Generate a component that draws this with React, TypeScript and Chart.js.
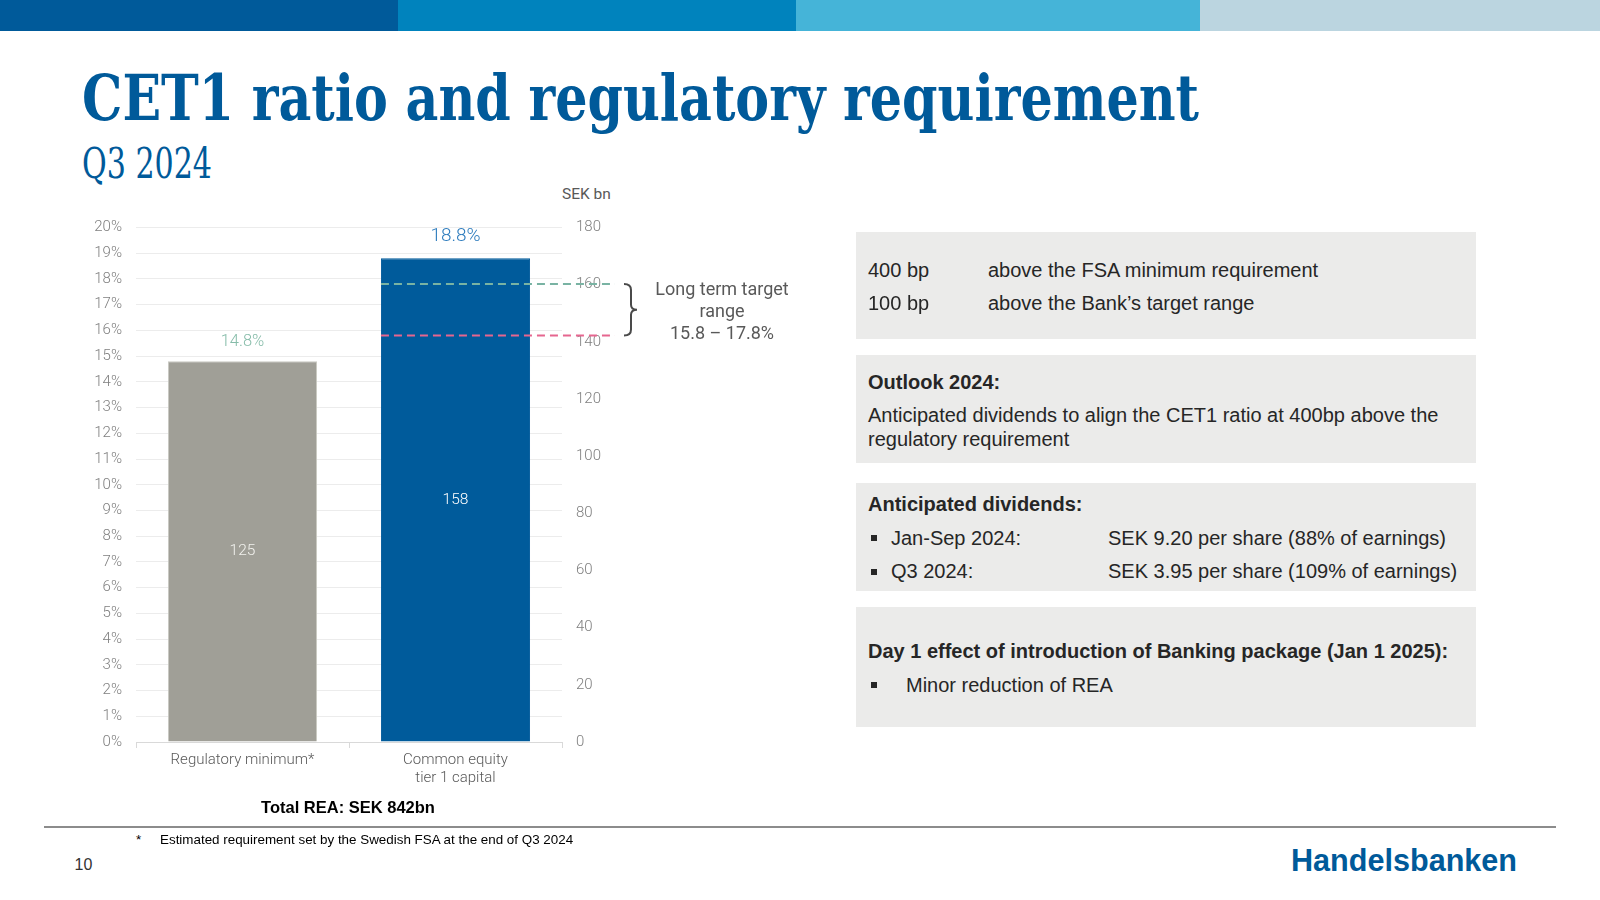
import React, { useEffect, useLayoutEffect, useRef } from "react";
import { Chart, registerables } from "chart.js";

Chart.register(...registerables);

// ---------- data ----------
const categories: string[][] = [["Regulatory minimum*"], ["Common equity", "tier 1 capital"]];
const cet1RatioPct: number[] = [14.8, 18.8];
const capitalSekBn: number[] = [125, 158];
const targetRangeLowPct = 15.8;
const targetRangeHighPct = 17.8;
const leftAxisMax = 20;
const leftAxisStep = 1;
const rightAxisMax = 180;
const rightAxisStep = 20;

// ---------- styles ----------
const BLUE = "#005a9a";
const barColors = ["#a09f97", "#005b9b"];
const barBorderColors = ["#c9c9c2", "#005b9b"];
const pctLabelColors = ["#86bca9", "#2c7bbd"];
const pctLabelSizes = [16.5, 19];
const pctLabelOffsets = [19.5, 22.5];
const valueLabelColors = ["#f2f2ee", "#ffffff"];
const targetLineColors = { high: "#79b3a3", low: "#e6668f" };
const TICK_FONT = "Roboto";

function FitText({ text, width, style }: { text: string; width: number; style: React.CSSProperties }) {
  const ref = useRef<HTMLDivElement>(null);
  useLayoutEffect(() => {
    const fit = () => {
      const el = ref.current;
      if (!el) return;
      el.style.transform = "none";
      const w = el.getBoundingClientRect().width;
      if (w > 0) el.style.transform = `scaleX(${width / w})`;
    };
    fit();
    if ((document as any).fonts?.ready) (document as any).fonts.ready.then(fit);
  }, [text, width]);
  return (
    <div
      ref={ref}
      style={{ position: "absolute", whiteSpace: "nowrap", display: "inline-block", transformOrigin: "left top", ...style }}
    >
      {text}
    </div>
  );
}

function CapitalChart() {
  const canvasRef = useRef<HTMLCanvasElement>(null);
  useEffect(() => {
    const canvas = canvasRef.current;
    if (!canvas) return;

    const overlay = {
      id: "overlay",
      afterDatasetsDraw(chart: any) {
        const ctx = chart.ctx;
        const meta = chart.getDatasetMeta(0);
        ctx.save();
        meta.data.forEach((bar: any, i: number) => {
          const props = bar.getProps(["x", "y", "base"], true);
          ctx.textAlign = "center";
          ctx.textBaseline = "middle";
          ctx.font = `300 ${pctLabelSizes[i]}px ${TICK_FONT}`;
          ctx.fillStyle = pctLabelColors[i];
          ctx.fillText(`${cet1RatioPct[i].toFixed(1)}%`, props.x, props.y - pctLabelOffsets[i]);
          ctx.font = `300 15.5px ${TICK_FONT}`;
          ctx.fillStyle = valueLabelColors[i];
          ctx.fillText(String(capitalSekBn[i]), props.x, (props.y + props.base) / 2);
        });
        ctx.restore();
      },
      afterDraw(chart: any) {
        const ctx = chart.ctx;
        const y = chart.scales.y;
        const area = chart.chartArea;
        const bar = chart.getDatasetMeta(0).data[1];
        const bp = bar.getProps(["x", "width"], true);
        const xStart = bp.x - bp.width / 2;
        const xEnd = area.right + 53;
        const yHigh = y.getPixelForValue(targetRangeHighPct);
        const yLow = y.getPixelForValue(targetRangeLowPct);
        ctx.save();
        ctx.lineWidth = 2;
        ctx.setLineDash([8, 5]);
        ctx.strokeStyle = targetLineColors.high;
        ctx.beginPath();
        ctx.moveTo(xStart, yHigh);
        ctx.lineTo(xEnd, yHigh);
        ctx.stroke();
        ctx.strokeStyle = targetLineColors.low;
        ctx.beginPath();
        ctx.moveTo(xStart, yLow);
        ctx.lineTo(xEnd, yLow);
        ctx.stroke();
        // brace
        ctx.setLineDash([]);
        ctx.strokeStyle = "#4a4a4a";
        ctx.lineWidth = 2;
        const x0 = area.right + 62;
        const x1 = x0 + 7;
        const tip = x0 + 13;
        const yMid = (yHigh + yLow) / 2;
        ctx.beginPath();
        ctx.moveTo(x0, yHigh);
        ctx.quadraticCurveTo(x1, yHigh, x1, yHigh + 6);
        ctx.lineTo(x1, yMid - 5);
        ctx.quadraticCurveTo(x1, yMid, tip, yMid);
        ctx.quadraticCurveTo(x1, yMid, x1, yMid + 5);
        ctx.lineTo(x1, yLow - 6);
        ctx.quadraticCurveTo(x1, yLow, x0, yLow);
        ctx.stroke();
        ctx.restore();
      },
    };

    const tickFont = { family: TICK_FONT, size: 15, weight: 300 as any, lineHeight: 1.3 };
    const xTickFont = { family: TICK_FONT, size: 15, weight: 300 as any, lineHeight: 1.22 };

    const chart = new Chart(canvas, {
      type: "bar",
      data: {
        labels: categories,
        datasets: [
          {
            data: cet1RatioPct,
            backgroundColor: barColors,
            borderColor: barBorderColors,
            borderWidth: 1,
            barPercentage: 0.7,
            categoryPercentage: 1.0,
            yAxisID: "y",
          },
        ],
      },
      options: {
        responsive: false,
        maintainAspectRatio: false,
        animation: false,
        devicePixelRatio: 1,
        layout: { padding: { top: 36.5, left: 0, right: 0, bottom: 0 } },
        plugins: { legend: { display: false }, tooltip: { enabled: false }, title: { display: false } },
        scales: {
          x: {
            grid: { display: true, drawOnChartArea: false, drawTicks: true, tickLength: 6, color: "#d9d9d9", offset: true },
            border: { display: true, color: "#d9d9d9", width: 1 },
            ticks: { color: "#595959", font: xTickFont, padding: 3, maxRotation: 0, autoSkip: false },
            afterFit: (s: any) => {
              s.height = 69;
            },
          },
          y: {
            position: "left",
            min: 0,
            max: leftAxisMax,
            ticks: { stepSize: leftAxisStep, color: "#7f7f7f", font: tickFont, padding: 14, callback: (v: any) => `${v}%` },
            grid: { color: "#ececec", drawTicks: false, lineWidth: 1 },
            border: { display: false },
            afterFit: (s: any) => {
              s.width = 76;
            },
          },
          y2: {
            position: "right",
            min: 0,
            max: rightAxisMax,
            ticks: { stepSize: rightAxisStep, color: "#7f7f7f", font: tickFont, padding: 14 },
            grid: { display: false, drawTicks: false },
            border: { display: false },
            afterFit: (s: any) => {
              s.width = 138;
            },
          },
        },
      },
      plugins: [overlay],
    });
    return () => chart.destroy();
  }, []);
  return (
    <canvas
      ref={canvasRef}
      width={640}
      height={620}
      style={{ position: "absolute", left: 60, top: 190.5, width: 640, height: 620 }}
    />
  );
}

const sans = "'Liberation Sans', Arial, sans-serif";

function Line({ x, y, text, bold, size = 20, color = "#262626" }: { x: number; y: number; text: string; bold?: boolean; size?: number; color?: string }) {
  return (
    <div
      style={{
        position: "absolute",
        left: x,
        top: y - 12,
        height: 24,
        lineHeight: "24px",
        fontFamily: sans,
        fontSize: size,
        fontWeight: bold ? 700 : 400,
        color,
        whiteSpace: "nowrap",
      }}
    >
      {text}
    </div>
  );
}

function Bullet({ x, y }: { x: number; y: number }) {
  return <div style={{ position: "absolute", left: x, top: y - 3, width: 6, height: 6, background: "#262626" }} />;
}

export default function App() {
  const boxStyle = (top: number, height: number): React.CSSProperties => ({
    position: "absolute",
    left: 856,
    top,
    width: 620,
    height,
    background: "#ebebea",
  });
  return (
    <div style={{ position: "fixed", left: 0, top: 0, width: 1600, height: 900, background: "#ffffff", overflow: "hidden" }}>
      {/* top bar */}
      <div style={{ position: "absolute", left: 0, top: 0, width: 398, height: 31, background: "#005a9a" }} />
      <div style={{ position: "absolute", left: 398, top: 0, width: 398, height: 31, background: "#0083bd" }} />
      <div style={{ position: "absolute", left: 796, top: 0, width: 404, height: 31, background: "#45b4d8" }} />
      <div style={{ position: "absolute", left: 1200, top: 0, width: 400, height: 31, background: "#bbd5e0" }} />

      <FitText
        text="CET1 ratio and regulatory requirement"
        width={1117}
        style={{ left: 82, top: 66, fontFamily: "'DejaVu Serif Condensed', 'DejaVu Serif', serif", fontWeight: 700, fontSize: 64, lineHeight: "64px", color: BLUE }}
      />
      <FitText
        text="Q3 2024"
        width={130}
        style={{ left: 82, top: 143, fontFamily: "'DejaVu Serif Condensed', 'DejaVu Serif', serif", fontWeight: 400, fontSize: 42, lineHeight: "42px", color: BLUE }}
      />

      <div style={{ position: "absolute", left: 562, top: 185, fontFamily: TICK_FONT, fontWeight: 400, fontSize: 15.5, lineHeight: "18px", color: "#595959" }}>SEK bn</div>

      <CapitalChart />

      <div
        style={{
          position: "absolute",
          left: 642,
          top: 278,
          width: 160,
          textAlign: "center",
          fontFamily: TICK_FONT,
          fontWeight: 400,
          fontSize: 18,
          lineHeight: "22px",
          color: "#595959",
        }}
      >
        Long term target
        <br />
        range
        <br />
        15.8 – 17.8%
      </div>

      <div style={{ position: "absolute", left: 248, top: 797, width: 200, textAlign: "center", fontFamily: sans, fontWeight: 700, fontSize: 16.5, lineHeight: "20px", color: "#000" }}>
        Total REA: SEK 842bn
      </div>

      {/* right boxes */}
      <div style={boxStyle(232, 107)} />
      <Line x={868} y={269.5} text="400 bp" />
      <Line x={988} y={269.5} text="above the FSA minimum requirement" />
      <Line x={868} y={303} text="100 bp" />
      <Line x={988} y={303} text="above the Bank’s target range" />

      <div style={boxStyle(355, 108)} />
      <Line x={868} y={381.5} text="Outlook 2024:" bold />
      <Line x={868} y={415.3} text="Anticipated dividends to align the CET1 ratio at 400bp above the" />
      <Line x={868} y={438.8} text="regulatory requirement" />

      <div style={boxStyle(483, 108)} />
      <Line x={868} y={504} text="Anticipated dividends:" bold />
      <Bullet x={871} y={538} />
      <Line x={891} y={537.8} text="Jan-Sep 2024:" />
      <Line x={1108} y={537.8} text="SEK 9.20 per share (88% of earnings)" />
      <Bullet x={871} y={572} />
      <Line x={891} y={571.4} text="Q3 2024:" />
      <Line x={1108} y={571.4} text="SEK 3.95 per share (109% of earnings)" />

      <div style={boxStyle(607, 120)} />
      <Line x={868} y={651} text="Day 1 effect of introduction of Banking package (Jan 1 2025):" bold />
      <Bullet x={871} y={685} />
      <Line x={906} y={684.7} text="Minor reduction of REA" />

      {/* footer */}
      <div style={{ position: "absolute", left: 44, top: 825.5, width: 1512, height: 2, background: "#8c8c8c" }} />
      <Line x={136} y={839.5} text="*" size={13.4} color="#000" />
      <Line x={160} y={839.5} text="Estimated requirement set by the Swedish FSA at the end of Q3 2024" size={13.4} color="#000" />
      <Line x={74.5} y={864.5} text="10" size={16} color="#333" />
      <FitText
        text="Handelsbanken"
        width={226}
        style={{ left: 1291, top: 844, fontFamily: sans, fontWeight: 700, fontSize: 31, lineHeight: "34px", color: BLUE }}
      />
    </div>
  );
}
